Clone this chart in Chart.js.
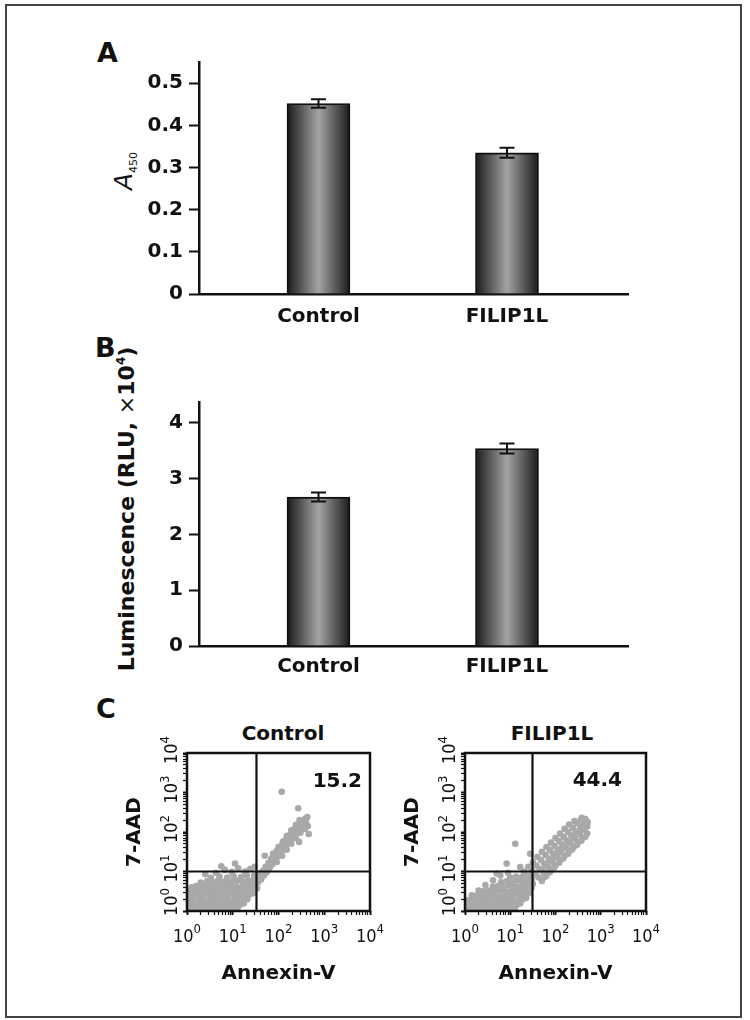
<!DOCTYPE html>
<html><head><meta charset="utf-8">
<script src="https://cdn.jsdelivr.net/npm/chart.js@4.4.1/dist/chart.umd.min.js"></script>
<style>
html,body{margin:0;padding:0;background:#fff;}
body{width:750px;height:1020px;position:relative;overflow:hidden;font-family:'DejaVu Sans',sans-serif;color:#111;}
.frame{position:absolute;left:5px;top:4px;width:737px;height:1014px;border:2px solid #444;box-sizing:border-box;}
canvas{position:absolute;}
.lbl{position:absolute;font-weight:bold;font-size:27px;line-height:27px;white-space:nowrap;}
.rot{position:absolute;white-space:nowrap;transform:translate(-50%,-50%) rotate(-90deg);line-height:1;}
.ttl{position:absolute;font-weight:bold;font-size:20px;line-height:20px;white-space:nowrap;transform:translateX(-50%);}
</style>
</head><body>
<div class="frame"></div>
<div class="lbl" style="left:97px;top:39px;">A</div>
<div class="lbl" style="left:95px;top:334px;">B</div>
<div class="lbl" style="left:96px;top:695px;">C</div>
<div class="rot" style="left:123px;top:171px;font-size:25px;"><span style="font-style:italic;">A</span><span style="font-size:11px;position:relative;top:5px;">450</span></div>
<div class="rot" style="left:127px;top:509px;font-size:22px;font-weight:bold;">Luminescence (RLU, <span style="font-weight:normal;">×</span>10<span style="font-size:12px;position:relative;top:-9px;">4</span>)</div>
<div class="ttl" style="left:283px;top:723px;">Control</div>
<div class="ttl" style="left:552px;top:723px;">FILIP1L</div>
<canvas id="cA" width="520" height="298" style="left:130px;top:42px;"></canvas>
<canvas id="cB" width="520" height="310" style="left:130px;top:382px;"></canvas>
<canvas id="cC1" width="280" height="275" style="left:105px;top:725px;"></canvas>
<canvas id="cC2" width="278" height="275" style="left:383px;top:725px;"></canvas>
<script>
// ---------- data ----------
const categories = ['Control', 'FILIP1L'];
const a450 = [0.452, 0.335];
const a450Err = [0.010, 0.012];
const lum = [2.67, 3.54];
const lumErr = [0.08, 0.09];
const yTicksA = [0, 0.1, 0.2, 0.3, 0.4, 0.5];
const yTicksB = [0, 1, 2, 3, 4];
const logMajor = [1, 10, 100, 1000, 10000];
const logExp = ['0', '1', '2', '3', '4'];
const plotTitles = ['Control', 'FILIP1L'];
const quadPercent = ['15.2', '44.4'];
const gateAnnexin = [33, 31];
const gate7AAD = [10, 10];
// scatter clouds: [log10 Annexin-V, log10 7-AAD]
const controlCloud = [
[0.03,0.05],[0.13,0.03],[0.24,0.06],[0.35,0.04],[0.46,0.07],[0.57,0.03],[0.68,0.05],[0.79,0.04],[0.90,0.06],[1.01,0.03],[1.10,0.05],
[0.06,0.16],[0.17,0.14],[0.28,0.17],[0.39,0.15],[0.50,0.13],[0.61,0.17],[0.72,0.15],[0.83,0.16],[0.94,0.14],[1.05,0.17],[1.15,0.15],[1.24,0.19],
[0.02,0.28],[0.12,0.26],[0.23,0.29],[0.34,0.27],[0.45,0.25],[0.56,0.28],[0.67,0.26],[0.78,0.29],[0.89,0.27],[1.00,0.25],[1.11,0.28],[1.22,0.26],[1.32,0.30],
[0.05,0.38],[0.16,0.40],[0.27,0.37],[0.38,0.41],[0.49,0.39],[0.60,0.37],[0.71,0.40],[0.82,0.38],[0.93,0.41],[1.04,0.39],[1.15,0.37],[1.26,0.40],[1.37,0.42],[1.45,0.45],
[0.03,0.50],[0.13,0.52],[0.24,0.49],[0.35,0.53],[0.46,0.51],[0.57,0.49],[0.68,0.52],[0.79,0.50],[0.90,0.53],[1.01,0.51],[1.12,0.49],[1.23,0.52],[1.34,0.50],[1.44,0.54],[1.53,0.57],
[0.10,0.60],[0.20,0.63],[0.31,0.61],[0.42,0.64],[0.53,0.62],[0.64,0.60],[0.75,0.63],[0.86,0.61],[0.97,0.64],[1.08,0.62],[1.19,0.60],[1.30,0.63],[1.41,0.65],[1.51,0.68],
[0.30,0.72],[0.44,0.75],[0.56,0.73],[0.67,0.76],[0.78,0.74],[0.89,0.72],[1.00,0.75],[1.11,0.77],[1.22,0.74],[1.33,0.76],[1.44,0.78],[1.56,0.80],
[0.52,0.84],[0.71,0.87],[0.88,0.85],[1.02,0.88],[1.18,0.86],[1.31,0.89],[1.47,0.90],[1.60,0.92],
[0.40,0.93],[0.63,0.97],[0.83,1.04],[0.98,0.99],[1.12,1.08],[1.27,1.00],[0.75,1.13],[1.05,1.20],[1.38,1.06],
[1.55,0.72],[1.62,0.80],[1.58,0.95],[1.68,0.90],[1.66,1.02],[1.74,0.98],
[1.72,1.12],[1.80,1.08],[1.78,1.22],[1.86,1.18],[1.84,1.32],[1.92,1.28],
[1.90,1.42],[1.98,1.38],[1.96,1.52],[2.04,1.47],[2.02,1.60],[2.10,1.55],
[2.08,1.68],[2.16,1.64],[2.13,1.78],[2.21,1.72],[2.19,1.85],[2.27,1.80],
[2.25,1.93],[2.33,1.88],[2.30,2.01],[2.38,1.96],[2.36,2.09],[2.44,2.04],
[2.42,2.15],[2.50,2.10],[2.47,2.22],[2.55,2.17],[2.53,2.27],[2.60,2.24],[2.58,2.33],
[1.88,1.45],[2.00,1.62],[2.10,1.76],[2.18,1.90],[2.28,2.04],[2.38,2.18],[2.46,2.30],
[1.96,1.24],[2.08,1.40],[2.18,1.55],[2.28,1.70],[2.38,1.84],[2.48,1.98],[2.58,2.08],[2.64,2.15],
[2.07,3.02],[2.43,2.60],[2.63,2.38],[1.70,1.40],[2.45,1.75],[1.48,1.12],[2.66,1.95]
];
const filipCloud = [
[0.03,0.05],[0.14,0.03],[0.25,0.06],[0.36,0.04],[0.47,0.06],[0.58,0.03],[0.69,0.05],[0.80,0.04],[0.91,0.06],[1.02,0.03],[1.10,0.06],
[0.04,0.15],[0.15,0.17],[0.26,0.14],[0.37,0.16],[0.48,0.18],[0.59,0.15],[0.70,0.17],[0.81,0.14],[0.92,0.16],[1.03,0.18],[1.14,0.15],[1.22,0.19],
[0.06,0.27],[0.17,0.29],[0.28,0.26],[0.39,0.28],[0.50,0.30],[0.61,0.27],[0.72,0.25],[0.83,0.28],[0.94,0.30],[1.05,0.27],[1.16,0.25],[1.27,0.29],[1.35,0.33],
[0.22,0.38],[0.33,0.40],[0.44,0.37],[0.55,0.41],[0.66,0.39],[0.77,0.37],[0.88,0.40],[0.99,0.38],[1.10,0.41],[1.21,0.39],[1.32,0.42],[1.42,0.45],
[0.40,0.50],[0.51,0.52],[0.62,0.49],[0.73,0.53],[0.84,0.51],[0.95,0.49],[1.06,0.52],[1.17,0.50],[1.28,0.53],[1.38,0.55],[1.47,0.58],
[0.62,0.62],[0.74,0.64],[0.85,0.61],[0.96,0.65],[1.07,0.63],[1.18,0.61],[1.29,0.64],[1.40,0.66],[1.50,0.69],
[0.80,0.73],[0.93,0.76],[1.05,0.74],[1.16,0.77],[1.27,0.75],[1.38,0.78],[1.48,0.80],
[1.00,0.85],[1.13,0.87],[1.26,0.86],[1.37,0.89],[1.47,0.91],[1.56,0.93],
[0.15,0.40],[0.30,0.52],[0.45,0.66],[0.62,0.78],[0.78,0.90],[0.95,0.97],[0.92,1.20],[1.11,1.70],[1.22,1.11],[1.44,1.45],[1.40,1.12],[0.70,0.95],[1.30,1.00],
[1.48,1.02],[1.55,0.93],[1.63,0.85],[1.70,0.76],
[1.50,1.23],[1.58,1.15],[1.65,1.06],[1.73,0.98],[1.80,0.89],
[1.60,1.37],[1.68,1.29],[1.75,1.20],[1.83,1.12],[1.90,1.03],
[1.70,1.50],[1.78,1.42],[1.85,1.33],[1.93,1.25],[2.00,1.16],
[1.80,1.62],[1.88,1.54],[1.95,1.45],[2.03,1.37],[2.10,1.28],
[1.90,1.73],[1.98,1.65],[2.05,1.56],[2.13,1.48],[2.20,1.39],
[2.00,1.85],[2.08,1.77],[2.15,1.68],[2.23,1.60],[2.30,1.51],
[2.10,1.96],[2.18,1.88],[2.25,1.79],[2.33,1.71],[2.40,1.62],
[2.20,2.08],[2.28,2.00],[2.35,1.91],[2.43,1.83],[2.50,1.74],
[2.30,2.19],[2.38,2.11],[2.45,2.02],[2.53,1.94],[2.60,1.85],
[2.42,2.28],[2.48,2.22],[2.55,2.13],[2.63,2.05],[2.70,1.96],
[2.56,2.31],[2.63,2.22],[2.70,2.14],[2.58,2.36],[2.66,2.33],[2.71,2.25],
[1.70,1.05],[1.80,1.18],[1.90,1.30],[2.00,1.42],[2.10,1.54],[2.20,1.65],[2.30,1.76],[2.40,1.88],[2.50,1.99],[2.60,2.09],
[1.76,0.86],[1.88,0.99],[1.97,1.10],[2.08,1.22],[2.17,1.33],[2.28,1.45],[2.37,1.56],[2.47,1.67],[2.57,1.78],[2.66,1.88]
];

// ---------- helpers ----------
const FONT = "'DejaVu Sans', sans-serif";
const NARROW = "'Liberation Sans Narrow', 'DejaVu Sans Condensed', sans-serif";
const INK = '#111';

function barGradient(c) {
  if (c.type !== 'data' || !c.raw) return '#777';
  const xs = c.chart.scales.x;
  if (!xs) return '#777';
  const px = xs.getPixelForValue(c.raw.x);
  if (!isFinite(px)) return '#777';
  const g = c.chart.ctx.createLinearGradient(px - 31.5, 0, px + 31.5, 0);
  g.addColorStop(0, '#1a1a1a');
  g.addColorStop(0.5, '#a3a3a3');
  g.addColorStop(1, '#1a1a1a');
  return g;
}

const errorBars = {
  id: 'errorBars',
  afterDatasetsDraw(chart, args, o) {
    const {ctx, scales: {x, y}} = chart;
    ctx.save();
    ctx.strokeStyle = INK; ctx.lineWidth = 2;
    o.values.forEach((v, i) => {
      const px = x.getPixelForValue(i + 1);
      const t = y.getPixelForValue(v + o.errors[i]);
      const b = y.getPixelForValue(v - o.errors[i]);
      ctx.beginPath();
      ctx.moveTo(px, t); ctx.lineTo(px, b);
      ctx.moveTo(px - o.cap, t); ctx.lineTo(px + o.cap, t);
      ctx.moveTo(px - o.cap, b); ctx.lineTo(px + o.cap, b);
      ctx.stroke();
    });
    ctx.restore();
  }
};

function barChart(id, values, errors, yMax, yTicks, padTop, labelPad) {
  return new Chart(document.getElementById(id), {
    type: 'bar',
    data: {
      datasets: [{
        data: categories.map((c, i) => ({x: i + 1, y: values[i]})),
        backgroundColor: barGradient,
        borderColor: INK, borderWidth: 2, borderSkipped: 'bottom',
        barThickness: 63
      }]
    },
    options: {
      responsive: false, animation: false,
      layout: {padding: {top: padTop, right: 22, left: 0, bottom: 0}},
      plugins: {legend: {display: false}, tooltip: {enabled: false},
        errorBars: {values, errors, cap: 7.5}},
      scales: {
        x: {
          type: 'linear', min: 0.366, max: 2.642, offset: false,
          afterBuildTicks: s => { s.ticks = categories.map((c, i) => ({value: i + 1})); },
          afterFit: s => { s.height = 46; },
          grid: {display: false, drawTicks: false, offset: false},
          border: {display: true, color: INK, width: 2.5},
          ticks: {callback: v => categories[v - 1] || '', font: {family: FONT, size: 20, weight: 'bold'},
            color: INK, padding: labelPad, autoSkip: false, maxRotation: 0}
        },
        y: {
          min: 0, max: yMax,
          afterBuildTicks: s => { s.ticks = yTicks.map(v => ({value: v})); },
          afterFit: s => { s.width = 69; },
          grid: {drawOnChartArea: false, drawTicks: true, tickLength: 10, tickWidth: 2, tickColor: INK},
          border: {display: true, color: INK, width: 2.5},
          ticks: {font: {family: FONT, size: 20, weight: 'bold'}, color: INK, padding: 6}
        }
      }
    },
    plugins: [errorBars]
  });
}

// log ticks (major decades + minor 2..9)
const logTicks = [];
logMajor.forEach((m, i) => {
  logTicks.push({value: m, major: true});
  if (i < logMajor.length - 1) for (let k = 2; k <= 9; k++) logTicks.push({value: m * k, major: false});
});

const flowDecor = {
  id: 'flowDecor',
  afterDraw(chart, args, o) {
    const {ctx, chartArea: a, scales: {x, y}} = chart;
    ctx.save();
    ctx.strokeStyle = INK; ctx.lineWidth = 2.5;
    ctx.strokeRect(a.left, a.top, a.right - a.left, a.bottom - a.top);
    ctx.fillStyle = INK;
    const big = '18px ' + NARROW, small = '13px ' + NARROW;
    ctx.textAlign = 'left'; ctx.textBaseline = 'alphabetic';
    logMajor.forEach((v, i) => {
      const e = logExp[i];
      ctx.font = big; const w1 = ctx.measureText('10').width;
      ctx.font = small; const w2 = ctx.measureText(e).width;
      const cx = x.getPixelForValue(v);
      const sx = cx - (w1 + w2) / 2;
      ctx.font = big; ctx.fillText('10', sx, a.bottom + 31);
      ctx.font = small; ctx.fillText(e, sx + w1, a.bottom + 22);
      const cy = y.getPixelForValue(v);
      const shift = i === 0 ? 9 : 3;
      ctx.save();
      ctx.translate(a.left - 10, cy);
      ctx.rotate(-Math.PI / 2);
      const s0 = -(w1 + w2) / 2 + shift;
      ctx.font = big; ctx.fillText('10', s0, 0);
      ctx.font = small; ctx.fillText(e, s0 + w1, -8);
      ctx.restore();
    });
    ctx.font = 'bold 20px ' + FONT;
    ctx.textAlign = 'right';
    ctx.fillText(o.text, a.right - o.right, a.top + o.baseline);
    ctx.restore();
  }
};

function flowChart(id, idx, cloud, quadRight, quadBase) {
  const lo = logMajor[0], hi = logMajor[logMajor.length - 1];
  const gridCfg = {drawOnChartArea: false, drawTicks: true, tickLength: 4,
    tickWidth: c => (c.tick && c.tick.major ? 2 : 1.2), tickColor: INK};
  return new Chart(document.getElementById(id), {
    type: 'scatter',
    data: {
      datasets: [
        {type: 'line', data: [{x: gateAnnexin[idx], y: lo}, {x: gateAnnexin[idx], y: hi}],
          borderColor: INK, borderWidth: 2.2, pointRadius: 0, order: 0, clip: 0},
        {type: 'line', data: [{x: lo, y: gate7AAD[idx]}, {x: hi, y: gate7AAD[idx]}],
          borderColor: INK, borderWidth: 2.2, pointRadius: 0, order: 0, clip: 0},
        {data: cloud.map(p => ({x: Math.pow(10, p[0]), y: Math.pow(10, p[1])})),
          pointRadius: 3.3, pointBackgroundColor: '#a9a9a9', pointBorderWidth: 0, order: 1, clip: 0}
      ]
    },
    options: {
      responsive: false, animation: false,
      layout: {padding: {top: 28, right: 15, left: 0, bottom: 0}},
      plugins: {legend: {display: false}, tooltip: {enabled: false},
        flowDecor: {text: quadPercent[idx], right: quadRight, baseline: quadBase}},
      scales: {
        x: {
          type: 'logarithmic', min: lo, max: hi,
          afterBuildTicks: s => { s.ticks = logTicks.map(t => ({...t})); },
          afterFit: s => { s.height = 89; },
          grid: gridCfg, border: {display: false}, ticks: {display: false},
          title: {display: true, text: 'Annexin-V', color: INK,
            font: {family: FONT, size: 20, weight: 'bold'}, padding: {top: 0, bottom: 14.5}}
        },
        y: {
          type: 'logarithmic', min: lo, max: hi,
          afterBuildTicks: s => { s.ticks = logTicks.map(t => ({...t})); },
          afterFit: s => { s.width = 82; },
          grid: gridCfg, border: {display: false}, ticks: {display: false},
          title: {display: true, text: '7-AAD', color: INK,
            font: {family: FONT, size: 20, weight: 'bold'}, padding: {top: 18, bottom: 0}}
        }
      }
    },
    plugins: [flowDecor]
  });
}

function safe(f) { try { f(); } catch (e) { console.error(e); } }
safe(() => barChart('cA', a450, a450Err, 0.55, yTicksA, 20.2, 11));
safe(() => barChart('cB', lum, lumErr, 4.36, yTicksB, 20.7, 9));
safe(() => flowChart('cC1', 0, controlCloud, 8, 34));
safe(() => flowChart('cC2', 1, filipCloud, 24, 33));
</script>
</body></html>
